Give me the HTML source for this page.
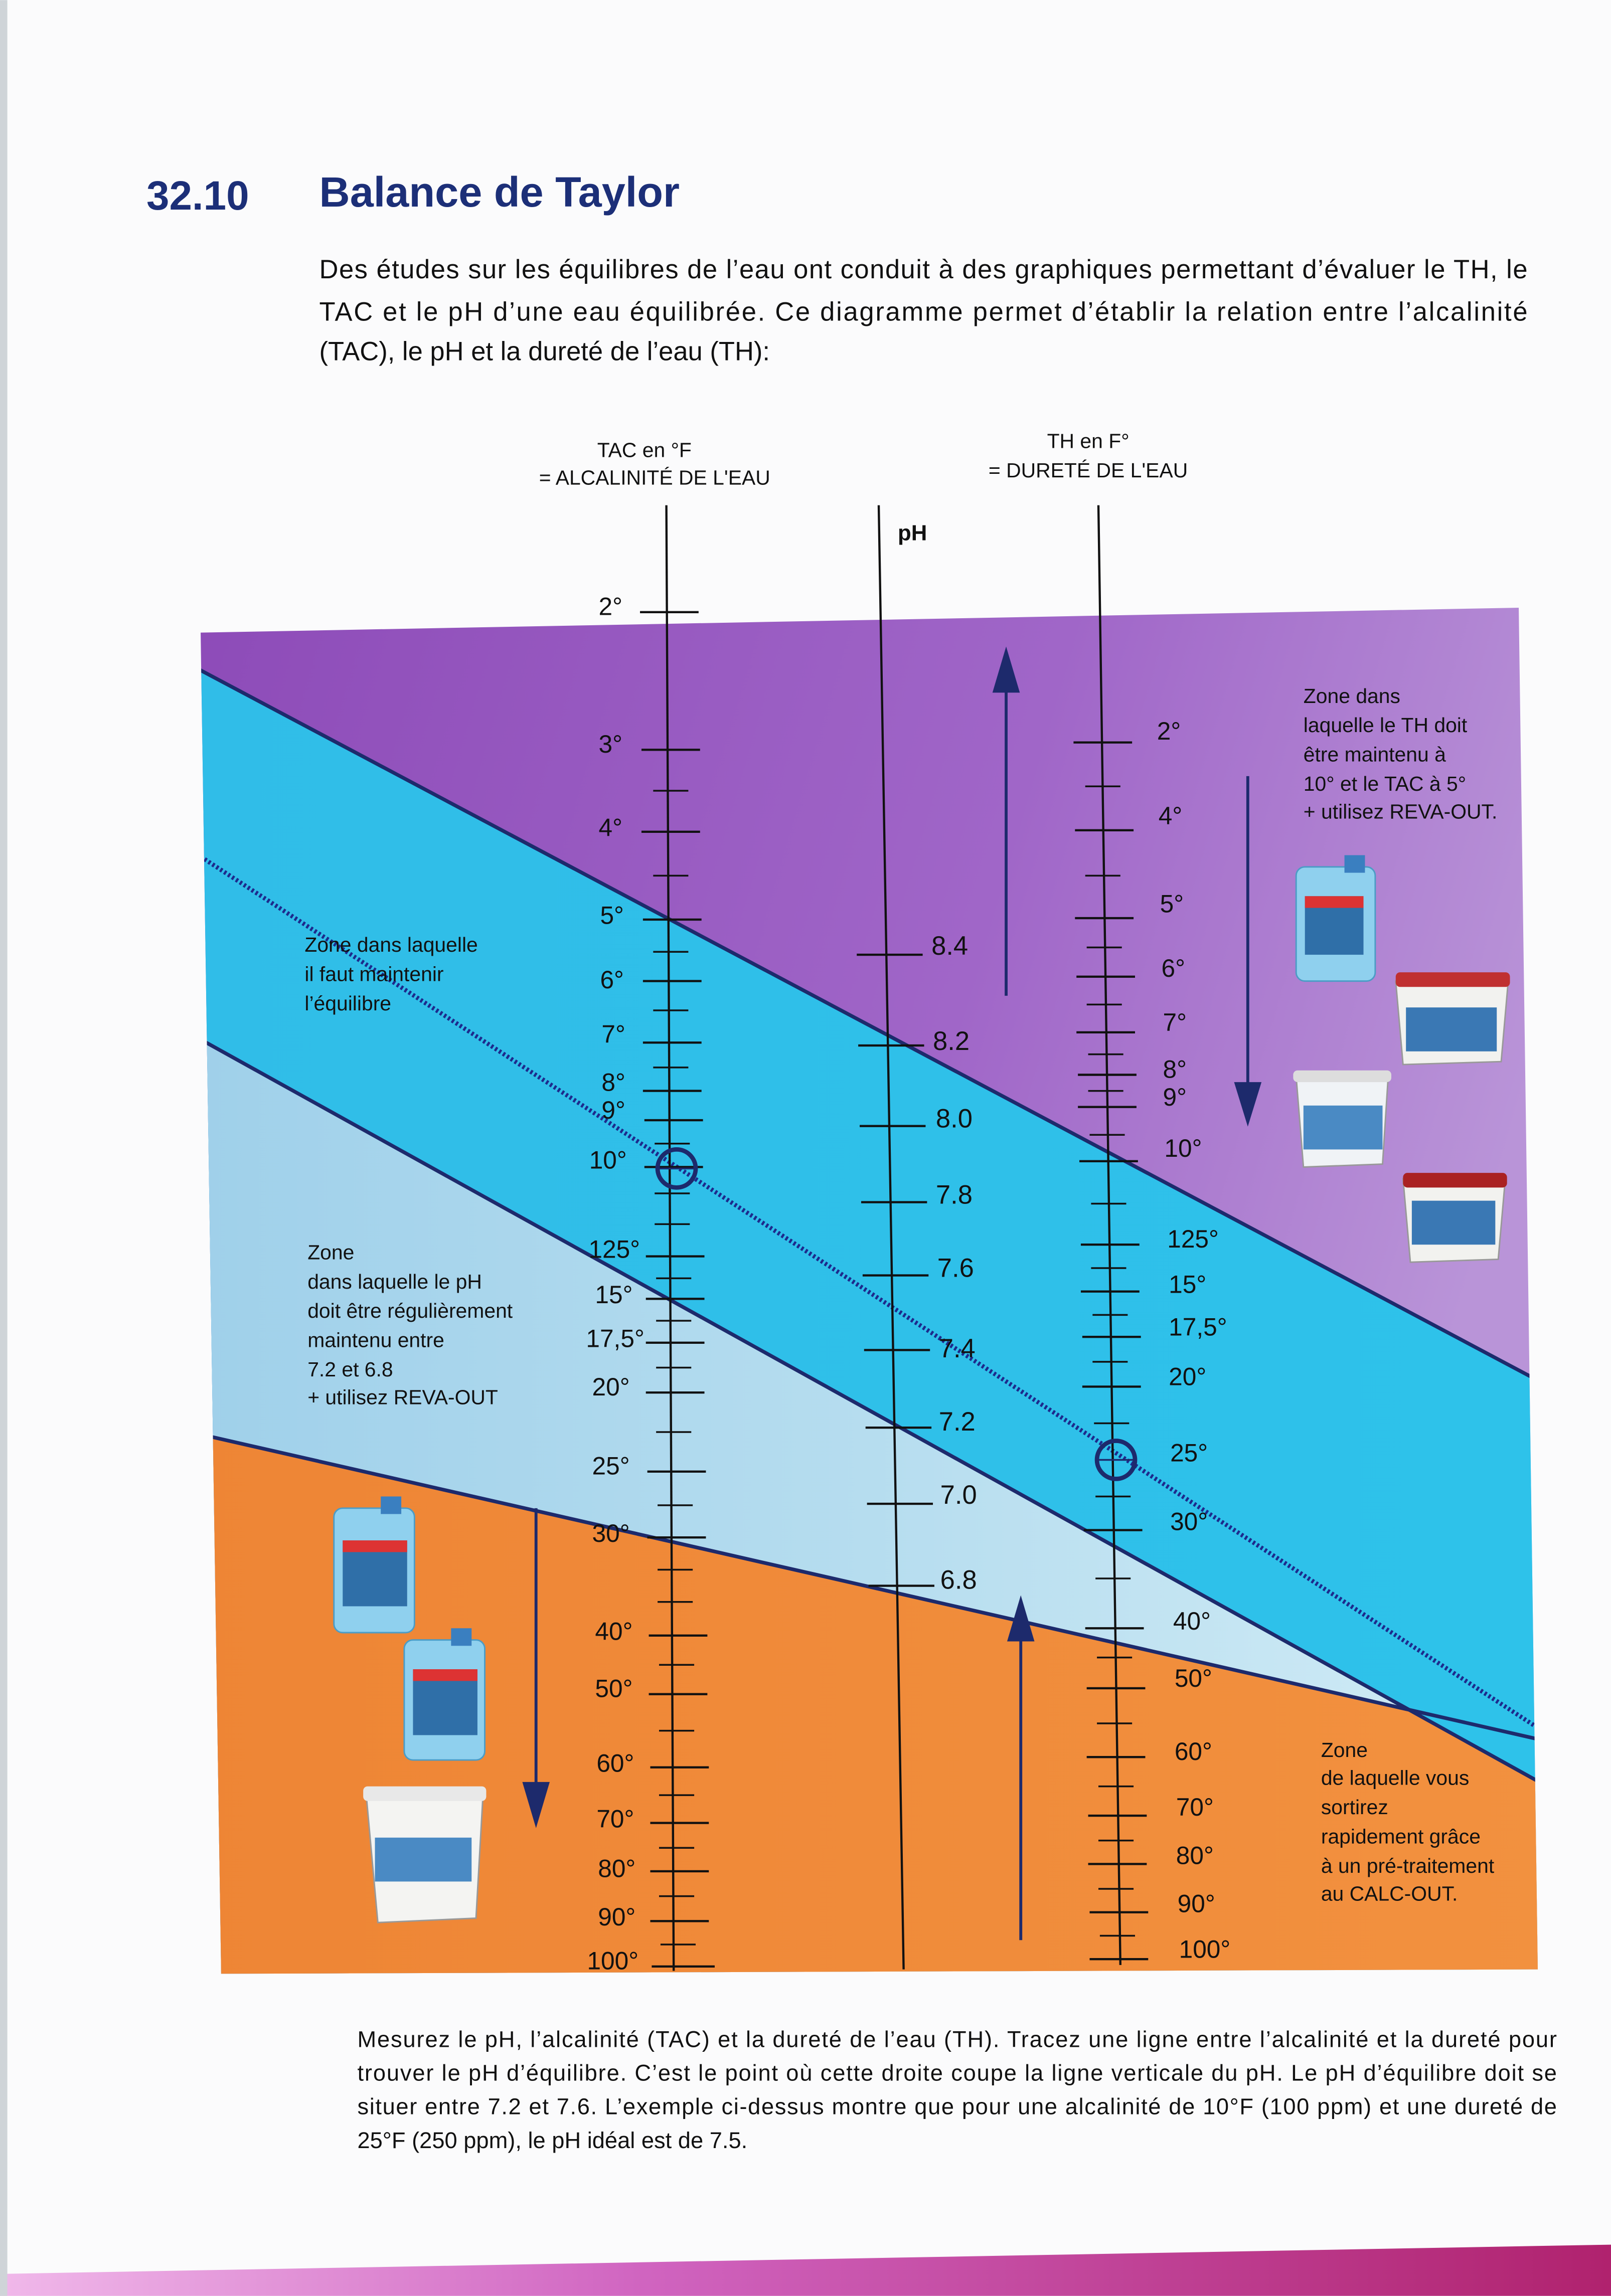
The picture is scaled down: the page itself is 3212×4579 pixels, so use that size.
<!DOCTYPE html>
<html><head><meta charset="utf-8"><style>
html,body{margin:0;padding:0;background:#fbfbfc;}
svg{display:block;}
text{font-family:"Liberation Sans",sans-serif;}
</style></head><body>
<svg width="3212" height="4579" viewBox="0 0 1100 1568" xmlns="http://www.w3.org/2000/svg">
<defs>
<linearGradient id="pur" x1="0" y1="0" x2="1" y2="0.3"><stop offset="0" stop-color="#8d4bb8"/><stop offset="0.6" stop-color="#a066c8"/><stop offset="1" stop-color="#b994d8"/></linearGradient>
<linearGradient id="lb" x1="0" y1="0" x2="1" y2="0"><stop offset="0" stop-color="#9fd0ea"/><stop offset="0.5" stop-color="#b6ddef"/><stop offset="1" stop-color="#d2ecf6"/></linearGradient>
<linearGradient id="cy" x1="0" y1="0" x2="1" y2="0"><stop offset="0" stop-color="#30bde8"/><stop offset="1" stop-color="#2ec2ea"/></linearGradient>
<linearGradient id="org" x1="0" y1="0" x2="1" y2="0"><stop offset="0" stop-color="#ee8535"/><stop offset="1" stop-color="#f2913f"/></linearGradient>
<linearGradient id="mag" x1="0" y1="0" x2="1" y2="0"><stop offset="0" stop-color="#f0b8ea"/><stop offset="0.4" stop-color="#d064c0"/><stop offset="1" stop-color="#b0226e"/></linearGradient>
<clipPath id="ch"><polygon points="137,432 1037,415 1050,1345 151,1348"/></clipPath>
</defs>

<!-- header -->
<text x="100" y="143" font-size="28" font-weight="bold" fill="#1c2f78">32.10</text>
<text x="218" y="141" font-size="29" font-weight="bold" fill="#1c2f78">Balance de Taylor</text>
<text x="218" y="190" font-size="18" fill="#111" textLength="825" lengthAdjust="spacing">Des études sur les équilibres de l’eau ont conduit à des graphiques permettant d’évaluer le TH, le</text>
<text x="218" y="219" font-size="18" fill="#111" textLength="825" lengthAdjust="spacing">TAC et le pH d’une eau équilibrée. Ce diagramme permet d’établir la relation entre l’alcalinité</text>
<text x="218" y="246" font-size="18" fill="#111">(TAC), le pH et la dureté de l’eau (TH):</text>

<!-- chart background -->
<g clip-path="url(#ch)">
<rect x="130" y="405" width="930" height="950" fill="url(#pur)"/>
<polygon points="130,454 1060,948 1060,1400 130,1400" fill="url(#cy)"/>
<polygon points="130,706 1060,1222 1060,1400 130,1400" fill="url(#lb)"/>
<polygon points="130,978 962,1168 1060,1222 1060,1400 130,1400" fill="url(#org)"/>
<line x1="130" y1="454" x2="1060" y2="948" stroke="#1d2a6c" stroke-width="2.5"/>
<line x1="130" y1="706" x2="1060" y2="1222" stroke="#1d2a6c" stroke-width="2.5"/>
<line x1="130" y1="978" x2="1060" y2="1190" stroke="#1d2a6c" stroke-width="2.5"/>
<line x1="137" y1="585" x2="1050" y2="1180" stroke="#1d2a8c" stroke-width="3" stroke-dasharray="1.6 1.6"/>
</g>

<!-- axes -->
<g stroke="#111" stroke-width="1.5" fill="none">
<line x1="455" y1="345" x2="460" y2="1346"/>
<line x1="600" y1="345" x2="617" y2="1345"/>
<line x1="750" y1="345" x2="765" y2="1342"/>
</g>

<!-- TAC ticks -->
<g stroke="#111" stroke-width="1.5">
<line x1="437" y1="418" x2="477" y2="418"/>
<line x1="438" y1="512" x2="478" y2="512"/>
<line x1="438" y1="568" x2="478" y2="568"/>
<line x1="439" y1="628" x2="479" y2="628"/>
<line x1="439" y1="670" x2="479" y2="670"/>
<line x1="439" y1="712" x2="479" y2="712"/>
<line x1="439" y1="745" x2="479" y2="745"/>
<line x1="440" y1="765" x2="480" y2="765"/>
<line x1="440" y1="797" x2="480" y2="797"/>
<line x1="441" y1="858" x2="481" y2="858"/>
<line x1="441" y1="887" x2="481" y2="887"/>
<line x1="441" y1="917" x2="481" y2="917"/>
<line x1="441" y1="951" x2="481" y2="951"/>
<line x1="442" y1="1005" x2="482" y2="1005"/>
<line x1="442" y1="1050" x2="482" y2="1050"/>
<line x1="443" y1="1117" x2="483" y2="1117"/>
<line x1="443" y1="1157" x2="483" y2="1157"/>
<line x1="444" y1="1207" x2="484" y2="1207"/>
<line x1="444" y1="1245" x2="484" y2="1245"/>
<line x1="444" y1="1278" x2="484" y2="1278"/>
<line x1="444" y1="1312" x2="484" y2="1312"/>
<line x1="445" y1="1343" x2="488" y2="1343"/>
</g>
<g stroke="#111" stroke-width="1.2">
<line x1="446" y1="540" x2="470" y2="540"/>
<line x1="446" y1="598" x2="470" y2="598"/>
<line x1="446" y1="650" x2="470" y2="650"/>
<line x1="446" y1="690" x2="470" y2="690"/>
<line x1="446" y1="729" x2="470" y2="729"/>
<line x1="447" y1="781" x2="471" y2="781"/>
<line x1="447" y1="815" x2="471" y2="815"/>
<line x1="447" y1="836" x2="471" y2="836"/>
<line x1="448" y1="873" x2="472" y2="873"/>
<line x1="448" y1="902" x2="472" y2="902"/>
<line x1="448" y1="934" x2="472" y2="934"/>
<line x1="448" y1="978" x2="472" y2="978"/>
<line x1="449" y1="1028" x2="473" y2="1028"/>
<line x1="449" y1="1072" x2="473" y2="1072"/>
<line x1="449" y1="1094" x2="473" y2="1094"/>
<line x1="450" y1="1137" x2="474" y2="1137"/>
<line x1="450" y1="1182" x2="474" y2="1182"/>
<line x1="450" y1="1226" x2="474" y2="1226"/>
<line x1="450" y1="1262" x2="474" y2="1262"/>
<line x1="450" y1="1295" x2="474" y2="1295"/>
<line x1="451" y1="1328" x2="475" y2="1328"/>
</g>
<g font-size="17" fill="#111" text-anchor="end">
<text x="425" y="420">2°</text><text x="425" y="514">3°</text><text x="425" y="571">4°</text>
<text x="426" y="631">5°</text><text x="426" y="675">6°</text><text x="427" y="712">7°</text>
<text x="427" y="745">8°</text><text x="427" y="764">9°</text><text x="428" y="798">10°</text>
<text x="437" y="859">125°</text><text x="432" y="890">15°</text><text x="440" y="920">17,5°</text>
<text x="430" y="953">20°</text><text x="430" y="1007">25°</text><text x="430" y="1053">30°</text>
<text x="432" y="1120">40°</text><text x="432" y="1159">50°</text><text x="433" y="1210">60°</text>
<text x="433" y="1248">70°</text><text x="434" y="1282">80°</text><text x="434" y="1315">90°</text>
<text x="436" y="1345">100°</text>
</g>

<!-- pH ticks -->
<g stroke="#111" stroke-width="1.5">
<line x1="585" y1="652" x2="630" y2="652"/>
<line x1="586" y1="714" x2="631" y2="714"/>
<line x1="587" y1="769" x2="632" y2="769"/>
<line x1="588" y1="821" x2="633" y2="821"/>
<line x1="589" y1="871" x2="634" y2="871"/>
<line x1="590" y1="922" x2="635" y2="922"/>
<line x1="591" y1="975" x2="636" y2="975"/>
<line x1="592" y1="1027" x2="637" y2="1027"/>
<line x1="593" y1="1083" x2="638" y2="1083"/>
</g>
<g font-size="18" fill="#111">
<text x="636" y="652">8.4</text><text x="637" y="717">8.2</text><text x="639" y="770">8.0</text>
<text x="639" y="822">7.8</text><text x="640" y="872">7.6</text><text x="641" y="927">7.4</text>
<text x="641" y="977">7.2</text><text x="642" y="1027">7.0</text><text x="642" y="1085">6.8</text>
</g>

<!-- TH ticks -->
<g stroke="#111" stroke-width="1.5">
<line x1="733" y1="507" x2="773" y2="507"/>
<line x1="734" y1="567" x2="774" y2="567"/>
<line x1="734" y1="627" x2="774" y2="627"/>
<line x1="735" y1="667" x2="775" y2="667"/>
<line x1="735" y1="705" x2="775" y2="705"/>
<line x1="736" y1="734" x2="776" y2="734"/>
<line x1="736" y1="756" x2="776" y2="756"/>
<line x1="737" y1="793" x2="777" y2="793"/>
<line x1="738" y1="850" x2="778" y2="850"/>
<line x1="738" y1="882" x2="778" y2="882"/>
<line x1="739" y1="913" x2="779" y2="913"/>
<line x1="739" y1="947" x2="779" y2="947"/>
<line x1="740" y1="1045" x2="780" y2="1045"/>
<line x1="741" y1="1112" x2="781" y2="1112"/>
<line x1="742" y1="1153" x2="782" y2="1153"/>
<line x1="742" y1="1200" x2="782" y2="1200"/>
<line x1="743" y1="1240" x2="783" y2="1240"/>
<line x1="743" y1="1273" x2="783" y2="1273"/>
<line x1="744" y1="1306" x2="784" y2="1306"/>
<line x1="744" y1="1338" x2="784" y2="1338"/>
</g>
<g stroke="#111" stroke-width="1.2">
<line x1="741" y1="537" x2="765" y2="537"/>
<line x1="741" y1="598" x2="765" y2="598"/>
<line x1="742" y1="647" x2="766" y2="647"/>
<line x1="742" y1="686" x2="766" y2="686"/>
<line x1="743" y1="720" x2="767" y2="720"/>
<line x1="743" y1="745" x2="767" y2="745"/>
<line x1="744" y1="775" x2="768" y2="775"/>
<line x1="745" y1="822" x2="769" y2="822"/>
<line x1="745" y1="866" x2="769" y2="866"/>
<line x1="746" y1="898" x2="770" y2="898"/>
<line x1="746" y1="930" x2="770" y2="930"/>
<line x1="747" y1="972" x2="771" y2="972"/>
<line x1="748" y1="1022" x2="772" y2="1022"/>
<line x1="748" y1="1078" x2="772" y2="1078"/>
<line x1="749" y1="1132" x2="773" y2="1132"/>
<line x1="749" y1="1177" x2="773" y2="1177"/>
<line x1="750" y1="1220" x2="774" y2="1220"/>
<line x1="750" y1="1257" x2="774" y2="1257"/>
<line x1="750" y1="1290" x2="774" y2="1290"/>
<line x1="751" y1="1322" x2="775" y2="1322"/>
</g>
<g font-size="17" fill="#111">
<text x="790" y="505">2°</text><text x="791" y="563">4°</text><text x="792" y="623">5°</text>
<text x="793" y="667">6°</text><text x="794" y="704">7°</text><text x="794" y="736">8°</text>
<text x="794" y="755">9°</text><text x="795" y="790">10°</text><text x="797" y="852">125°</text>
<text x="798" y="883">15°</text><text x="798" y="912">17,5°</text><text x="798" y="946">20°</text>
<text x="799" y="998">25°</text><text x="799" y="1045">30°</text><text x="801" y="1113">40°</text>
<text x="802" y="1152">50°</text><text x="802" y="1202">60°</text><text x="803" y="1240">70°</text>
<text x="803" y="1273">80°</text><text x="804" y="1306">90°</text><text x="805" y="1337">100°</text>
</g>

<!-- circles -->
<g stroke="#1d2a6c" stroke-width="3" fill="none">
<circle cx="462" cy="798" r="13"/><circle cx="762" cy="997" r="13"/>
</g>
<g stroke="#1d2a6c" stroke-width="1.2">
<line x1="448" y1="798" x2="476" y2="798"/><line x1="748" y1="997" x2="776" y2="997"/>
</g>

<!-- arrows -->
<g stroke="#1d2a6c" stroke-width="2" fill="#1d2a6c">
<line x1="687" y1="680" x2="687" y2="460"/><polygon points="687,445 679,472 695,472"/>
<line x1="852" y1="530" x2="852" y2="750"/><polygon points="852,766 844,740 860,740"/>
<line x1="366" y1="1030" x2="366" y2="1228"/><polygon points="366,1245 358,1218 374,1218"/>
<line x1="697" y1="1325" x2="697" y2="1110"/><polygon points="697,1093 689,1120 705,1120"/>
</g>

<!-- axis headers -->
<g font-size="14" fill="#111" text-anchor="middle">
<text x="440" y="312">TAC en °F</text><text x="447" y="331">= ALCALINITÉ DE L'EAU</text>
<text x="743" y="306">TH en F°</text><text x="743" y="326">= DURETÉ DE L'EAU</text>
</g>
<text x="623" y="369" font-size="15" font-weight="bold" fill="#111" text-anchor="middle">pH</text>

<!-- zone texts -->
<g font-size="14" fill="#111">
<text x="890" y="480">Zone dans</text><text x="890" y="500">laquelle le TH doit</text>
<text x="890" y="520">être maintenu à</text><text x="890" y="540">10° et le TAC à 5°</text>
<text x="890" y="559">+ utilisez REVA-OUT.</text>
<text x="208" y="650">Zone dans laquelle</text><text x="208" y="670">il faut maintenir</text><text x="208" y="690">l’équilibre</text>
<text x="210" y="860">Zone</text><text x="210" y="880">dans laquelle le pH</text>
<text x="210" y="900">doit être régulièrement</text><text x="210" y="920">maintenu entre</text>
<text x="210" y="940">7.2 et 6.8</text><text x="210" y="959">+ utilisez REVA-OUT</text>
<text x="902" y="1200">Zone</text><text x="902" y="1219">de laquelle vous</text>
<text x="902" y="1239">sortirez</text><text x="902" y="1259">rapidement grâce</text>
<text x="902" y="1279">à un pré-traitement</text><text x="902" y="1298">au CALC-OUT.</text>
</g>

<!-- products -->
<g>
<rect x="885" y="592" width="54" height="78" rx="6" fill="#8fd0ee" stroke="#4c9cc6"/>
<rect x="918" y="584" width="14" height="12" fill="#3a7fc0"/>
<rect x="891" y="612" width="40" height="40" fill="#2f6fa8"/>
<rect x="891" y="612" width="40" height="8" fill="#d33"/>
<path d="M953,670 L1030,668 L1025,725 L958,727 Z" fill="#f2f2ef" stroke="#999"/>
<rect x="960" y="688" width="62" height="30" fill="#3a78b4"/>
<rect x="953" y="664" width="78" height="10" rx="3" fill="#c03030"/>
<path d="M885,735 L948,733 L944,795 L890,797 Z" fill="#f0f3f6" stroke="#999"/>
<rect x="890" y="755" width="54" height="30" fill="#4a8ac4"/>
<rect x="883" y="731" width="67" height="8" rx="3" fill="#ddd"/>
<path d="M958,805 L1028,803 L1023,860 L963,862 Z" fill="#f2f2ef" stroke="#999"/>
<rect x="964" y="820" width="57" height="30" fill="#3a78b4"/>
<rect x="958" y="801" width="71" height="10" rx="3" fill="#a22"/>
<rect x="228" y="1030" width="55" height="85" rx="6" fill="#8fd0ee" stroke="#4c9cc6"/>
<rect x="260" y="1022" width="14" height="12" fill="#3a7fc0"/>
<rect x="234" y="1052" width="44" height="45" fill="#2f6fa8"/>
<rect x="234" y="1052" width="44" height="8" fill="#d33"/>
<rect x="276" y="1120" width="55" height="82" rx="6" fill="#8fd0ee" stroke="#4c9cc6"/>
<rect x="308" y="1112" width="14" height="12" fill="#3a7fc0"/>
<rect x="282" y="1140" width="44" height="45" fill="#2f6fa8"/>
<rect x="282" y="1140" width="44" height="8" fill="#d33"/>
<path d="M250,1225 L330,1222 L325,1310 L258,1313 Z" fill="#f4f4f2" stroke="#999"/>
<rect x="256" y="1255" width="66" height="30" fill="#4a8ac4"/>
<rect x="248" y="1220" width="84" height="10" rx="3" fill="#e8e8e8"/>
</g>

<!-- caption -->
<g font-size="15.5" fill="#111">
<text x="244" y="1398" textLength="819" lengthAdjust="spacing">Mesurez le pH, l’alcalinité (TAC) et la dureté de l’eau (TH). Tracez une ligne entre l’alcalinité et la dureté pour</text>
<text x="244" y="1421" textLength="819" lengthAdjust="spacing">trouver le pH d’équilibre. C’est le point où cette droite coupe la ligne verticale du pH. Le pH d’équilibre doit se</text>
<text x="244" y="1444" textLength="819" lengthAdjust="spacing">situer entre 7.2 et 7.6. L’exemple ci-dessus montre que pour une alcalinité de 10°F (100 ppm) et une dureté de</text>
<text x="244" y="1467">25°F (250 ppm), le pH idéal est de 7.5.</text>
</g>

<!-- bottom band -->
<polygon points="0,1553 1100,1533 1100,1568 0,1568" fill="url(#mag)"/>
<rect x="0" y="0" width="5" height="1568" fill="#cfd4d8"/>
</svg>
</body></html>
